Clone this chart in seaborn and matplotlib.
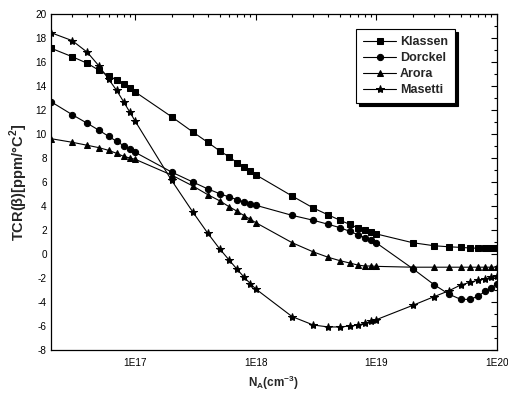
import matplotlib
matplotlib.use("Agg")
import matplotlib.pyplot as plt
import seaborn as sns
import pandas as pd
from matplotlib.ticker import FixedLocator, NullFormatter, MultipleLocator

# ---- data ----
na = [2e16, 3e16, 4e16, 5e16, 6e16, 7e16, 8e16, 9e16, 1e17,
      2e17, 3e17, 4e17, 5e17, 6e17, 7e17, 8e17, 9e17, 1e18,
      2e18, 3e18, 4e18, 5e18, 6e18, 7e18, 8e18, 9e18, 1e19,
      2e19, 3e19, 4e19, 5e19, 6e19, 7e19, 8e19, 9e19, 1e20]

klassen = [17.15, 16.44, 15.89, 15.31, 14.86, 14.5, 14.14, 13.83, 13.5,
           11.44, 10.17, 9.3, 8.6, 8.1, 7.6, 7.25, 6.92, 6.6,
           4.83, 3.83, 3.25, 2.81, 2.47, 2.19, 1.97, 1.83, 1.67,
           0.94, 0.69, 0.6, 0.55, 0.5, 0.48, 0.47, 0.46, 0.46]

dorckel = [12.69, 11.61, 10.89, 10.31, 9.81, 9.39, 9.03, 8.75, 8.47,
           6.83, 6.0, 5.42, 5.03, 4.75, 4.53, 4.33, 4.17, 4.06,
           3.22, 2.81, 2.47, 2.19, 1.89, 1.61, 1.36, 1.14, 0.92,
           -1.22, -2.55, -3.35, -3.78, -3.78, -3.5, -3.1, -2.8, -2.5]

arora = [9.61, 9.31, 9.06, 8.86, 8.64, 8.39, 8.14, 8.0, 7.89,
         6.58, 5.67, 4.94, 4.44, 3.94, 3.56, 3.19, 2.89, 2.61,
         0.94, 0.17, -0.28, -0.56, -0.75, -0.92, -1.0, -1.0, -1.03,
         -1.1, -1.1, -1.1, -1.1, -1.1, -1.1, -1.1, -1.1, -1.1]

masetti = [18.44, 17.78, 16.81, 15.67, 14.58, 13.64, 12.69, 11.83, 11.06,
           6.14, 3.5, 1.72, 0.44, -0.5, -1.28, -1.94, -2.47, -2.92,
           -5.22, -5.92, -6.08, -6.08, -6.0, -5.92, -5.78, -5.61, -5.47,
           -4.28, -3.56, -3.06, -2.58, -2.36, -2.17, -2.08, -1.94, -1.8]

series_names = ["Klassen", "Dorckel", "Arora", "Masetti"]
series_vals = [klassen, dorckel, arora, masetti]
markers = ["s", "o", "^", "*"]
msizes = [3.8, 4.5, 4.6, 6.0]

xtick_vals = [1e17, 1e18, 1e19, 1e20]
xtick_labels = ["1E17", "1E18", "1E19", "1E20"]
ytick_vals = [-8, -6, -4, -2, 0, 2, 4, 6, 8, 10, 12, 14, 16, 18, 20]

# ---- plot ----
sns.set_style("white")
plt.rcParams["font.family"] = ["Liberation Sans", "DejaVu Sans"]
plt.rcParams["axes.unicode_minus"] = False

fig = plt.figure(figsize=(5.08, 3.96), dpi=100)
ax = fig.add_axes([51 / 508, 1 - 350 / 396, (497 - 51) / 508, (350 - 14) / 396])

for name, vals, mk, ms in zip(series_names, series_vals, markers, msizes):
    df = pd.DataFrame({"NA": na, "TCR": vals})
    sns.lineplot(data=df, x="NA", y="TCR", ax=ax, color="black", lw=0.8,
                 marker=mk, markersize=ms, markeredgecolor="black",
                 markerfacecolor="black", label=name, sort=False)

ax.set_xscale("log")
ax.set_xlim(2e16, 1e20)
ax.set_ylim(-8, 20)

ax.xaxis.set_major_locator(FixedLocator(xtick_vals))
ax.set_xticklabels(xtick_labels)
minor = [float(m) * 10.0 ** e for e in range(16, 20) for m in range(2, 10)]
ax.xaxis.set_minor_locator(FixedLocator(minor))
ax.xaxis.set_minor_formatter(NullFormatter())
ax.set_yticks(ytick_vals)
ax.yaxis.set_minor_locator(MultipleLocator(1))

ax.tick_params(which="both", direction="in", top=True, right=True,
               labeltop=False, labelright=False, colors="black",
               labelsize=7.2, width=0.8)
ax.tick_params(which="major", length=4)
ax.tick_params(which="minor", length=2.2)
ax.tick_params(axis="x", pad=6)
ax.tick_params(axis="y", pad=3)
for sp in ax.spines.values():
    sp.set_color("black")
    sp.set_linewidth(0.9)

ax.set_xlabel(r"N$_\mathregular{A}$(cm$^\mathregular{-3}$)", fontsize=8.5,
              fontweight="bold", labelpad=4)
ax.set_ylabel(r"TCR(β)[ppm/°C$^\mathregular{2}$]", fontsize=10.5,
              fontweight="bold", labelpad=4)

leg = ax.legend(loc="upper right", frameon=True, fancybox=False,
                shadow={"color": "black", "alpha": 1.0},
                prop={"weight": "bold", "size": 9}, handlelength=2.7,
                handletextpad=0.3, borderpad=0.55, labelspacing=0.33,
                borderaxespad=0)
leg.get_frame().set_edgecolor("black")
leg.get_frame().set_linewidth(0.8)
leg.set_bbox_to_anchor((455 / 508, 1 - 29 / 396), transform=fig.transFigure)

fig.savefig("out.png", dpi=100)
